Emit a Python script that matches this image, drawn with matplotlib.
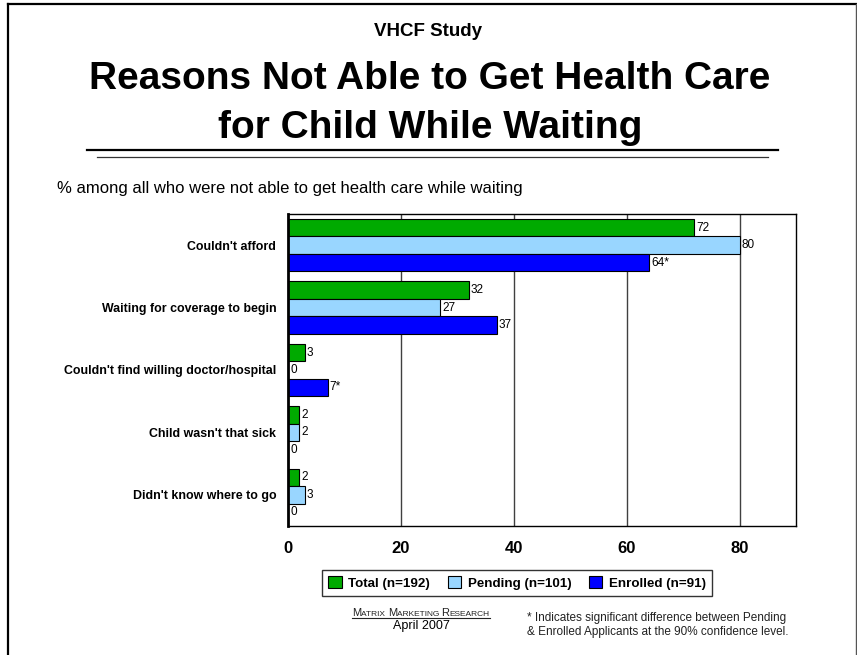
import matplotlib
matplotlib.use("Agg")
import matplotlib.pyplot as plt
from matplotlib.lines import Line2D
from matplotlib.patches import Patch
import numpy as np

# ---------------- data ----------------
categories = ["Couldn't afford",
              "Waiting for coverage to begin",
              "Couldn't find willing doctor/hospital",
              "Child wasn't that sick",
              "Didn't know where to go"]
series_names = ["Total (n=192)", "Pending (n=101)", "Enrolled (n=91)"]
total = [72, 32, 3, 2, 2]
pending = [80, 27, 0, 2, 3]
enrolled = [64, 37, 7, 0, 0]
enrolled_marks = ["*", "", "*", "", ""]
xticks = [0, 20, 40, 60, 80]

colors = ["#00AA00", "#99D6FF", "#0000FF"]

plt.rcParams['font.family'] = ['Liberation Sans', 'DejaVu Sans']

W, H = 857, 655
fig = plt.figure(figsize=(W / 100, H / 100), dpi=100)

def fx(px):
    return px / W

def fy(py):
    return 1 - py / H

ax = fig.add_axes([fx(288), fy(526), fx(796) - fx(288), fy(214) - fy(526)])

y = np.arange(len(categories))
bh = 0.28
all_series = [total, pending, enrolled]
marks = [[""] * len(categories), [""] * len(categories), enrolled_marks]
for i, (vals, col, mk) in enumerate(zip(all_series, colors, marks)):
    pos = y + (i - 1) * bh
    ax.barh(pos, vals, height=bh, color=col, edgecolor="black", linewidth=0.8, zorder=3)
    for p, v, m in zip(pos, vals, mk):
        ax.annotate(f"{v}{m}", xy=(v, p), xytext=(1.5, 0), textcoords="offset points",
                    ha="left", va="center", fontsize=8.5, zorder=4)

ax.set_xlim(0, 90)
ax.set_ylim(len(categories) - 0.5, -0.5)
ax.set_xticks(xticks)
ax.set_xticklabels([str(t) for t in xticks], fontsize=12, fontweight="bold")
ax.set_yticks(y)
ax.set_yticklabels(categories, fontsize=8.9, fontweight="bold")
ax.tick_params(axis="x", length=0, pad=11)
ax.tick_params(axis="y", length=0, pad=8.5)
for t in xticks[1:]:
    ax.axvline(t, color="#404040", linewidth=1, zorder=1)
for s in ["top", "right", "bottom"]:
    ax.spines[s].set_linewidth(1)
    ax.spines[s].set_color("black")
ax.spines["left"].set_linewidth(2)
ax.spines["left"].set_zorder(5)

# legend
handles = [Patch(facecolor=c, edgecolor="black", linewidth=0.8) for c in colors]
leg = fig.legend(handles, series_names, loc="center", bbox_to_anchor=(fx(517), fy(583)),
                 ncol=3, frameon=True, fancybox=False, prop={"weight": "bold", "size": 9.6},
                 handlelength=1.0, handleheight=1.0, handletextpad=0.5, columnspacing=1.3,
                 borderpad=0.5, edgecolor="black")
leg.get_frame().set_linewidth(1)

# titles
fig.text(0.5, fy(32), "VHCF Study", ha="center", va="center", fontsize=13.5, fontweight="bold")
fig.text(fx(430), fy(79), "Reasons Not Able to Get Health Care", ha="center", va="center",
         fontsize=28, fontweight="bold")
fig.text(fx(430), fy(128), "for Child While Waiting", ha="center", va="center",
         fontsize=28, fontweight="bold")
fig.add_artist(Line2D([fx(87), fx(778)], [fy(150), fy(150)], color="black", linewidth=1.6))
fig.add_artist(Line2D([fx(97), fx(768)], [fy(157), fy(157)], color="#333333", linewidth=0.9))

fig.text(fx(57), fy(188), "% among all who were not able to get health care while waiting",
         ha="left", va="center", fontsize=12)

# footnote
fig.text(fx(527), fy(618), "* Indicates significant difference between Pending",
         ha="left", va="center", fontsize=8.5, color="#222222")
fig.text(fx(527), fy(632), "& Enrolled Applicants at the 90% confidence level.",
         ha="left", va="center", fontsize=8.5, color="#222222")

# small-caps footer
pieces = [("M", 8), ("ATRIX ", 6), ("M", 8), ("ARKETING ", 6), ("R", 8), ("ESEARCH", 6)]
renderer = fig.canvas.get_renderer()
texts = []
widths = []
for s, sz in pieces:
    t = fig.text(0, fy(616), s, ha="left", va="baseline", fontsize=sz, color="#222222")
    texts.append(t)
    widths.append(t.get_window_extent(renderer).width)
total_w = sum(widths)
x0 = 421 - total_w / 2
x = x0
for t, w in zip(texts, widths):
    t.set_x(fx(x))
    x += w
fig.add_artist(Line2D([fx(x0), fx(x)], [fy(618), fy(618)], color="#222222", linewidth=0.8))
fig.text(fx(421), fy(626), "April 2007", ha="center", va="center", fontsize=9)

# page border
fig.add_artist(Line2D([fx(8), fx(8)], [fy(4), 0], color="black", linewidth=1.6))
fig.add_artist(Line2D([fx(8), fx(856)], [fy(4), fy(4)], color="black", linewidth=1.6))
fig.add_artist(Line2D([fx(855.5), fx(855.5)], [fy(4), 0], color="#555555", linewidth=1))

fig.savefig("out.png", dpi=100)
